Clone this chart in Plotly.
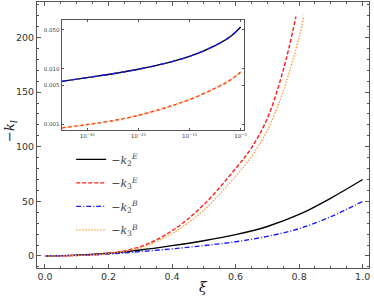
import plotly.graph_objects as go

# ---- main panel data ----
xi = [0.0, 0.1, 0.2, 0.3, 0.4, 0.5, 0.6, 0.7, 0.8, 0.9, 1.0]
k2E = [0.0, 0.8, 2.5, 5.5, 9.5, 14.0, 19.5, 27.0, 38.0, 53.0, 70.0]
k2B = [0.0, 0.6, 1.8, 4.0, 6.5, 9.5, 13.0, 18.0, 25.0, 36.0, 50.0]

xi_k3E = [0.0, 0.1, 0.2, 0.3, 0.4, 0.5, 0.6, 0.65, 0.7, 0.75, 0.79]
k3E = [0.0, 0.5, 2.5, 8.5, 23.0, 47.0, 80.0, 99.0, 126.0, 170.0, 219.0]

xi_k3B = [0.0, 0.1, 0.2, 0.3, 0.4, 0.5, 0.6, 0.65, 0.7, 0.75, 0.8, 0.815]
k3B = [0.0, 0.4, 2.2, 7.5, 20.5, 42.0, 73.0, 91.0, 115.0, 151.0, 200.0, 220.0]

# ---- inset data (log-log) ----
inset_x = [1e-40, 1e-35, 1e-30, 1e-25, 1e-20, 1e-15, 1e-10, 1e-7, 1e-5]
inset_k2 = [0.00594, 0.00695, 0.00815, 0.00982, 0.01236, 0.01667, 0.0261, 0.038, 0.0562]
inset_k3 = [0.00087, 0.000998, 0.00117, 0.00146, 0.00196, 0.0028, 0.00447, 0.0063, 0.0087]

main_yticks = [0, 50, 100, 150, 200]
main_xticks = [0.0, 0.2, 0.4, 0.6, 0.8, 1.0]
inset_xticks = [1e-35, 1e-25, 1e-15, 1e-5]
inset_xtext = ["10<sup>−35</sup>", "10<sup>−25</sup>", "10<sup>−15</sup>", "10<sup>−5</sup>"]
inset_yticks = [0.001, 0.005, 0.010, 0.050]
inset_ytext = ["0.001", "0.005", "0.010", "0.050"]

names = ["−<i>k</i><sub>2</sub><sup><i>E</i></sup>",
         "−<i>k</i><sub>3</sub><sup><i>E</i></sup>",
         "−<i>k</i><sub>2</sub><sup><i>B</i></sup>",
         "−<i>k</i><sub>3</sub><sup><i>B</i></sup>"]

BLACK = "#000000"
RED = "#ff1a1a"
BLUE = "#1a1aff"
ORANGE = "#ffa040"

fig = go.Figure()
lw = 1.4
fig.add_trace(go.Scatter(x=xi, y=k2E, mode="lines", name=names[0], legendgroup="a",
                         line=dict(color=BLACK, width=lw, shape="spline")))
fig.add_trace(go.Scatter(x=xi_k3E, y=k3E, mode="lines", name=names[1], legendgroup="b",
                         line=dict(color=RED, width=lw, dash="4px,2px", shape="spline")))
fig.add_trace(go.Scatter(x=xi, y=k2B, mode="lines", name=names[2], legendgroup="c",
                         line=dict(color=BLUE, width=lw, dash="5px,2px,1px,2px", shape="spline")))
fig.add_trace(go.Scatter(x=xi_k3B, y=k3B, mode="lines", name=names[3], legendgroup="d",
                         line=dict(color=ORANGE, width=lw, dash="1.5px,1.5px", shape="spline")))

# inset traces
fig.add_trace(go.Scatter(x=inset_x, y=inset_k2, mode="lines", showlegend=False,
                         xaxis="x2", yaxis="y2", line=dict(color=BLACK, width=lw, shape="spline")))
fig.add_trace(go.Scatter(x=inset_x, y=inset_k2, mode="lines", showlegend=False,
                         xaxis="x2", yaxis="y2", line=dict(color=BLUE, width=lw, dash="5px,2px,1px,2px", shape="spline")))
fig.add_trace(go.Scatter(x=inset_x, y=inset_k3, mode="lines", showlegend=False,
                         xaxis="x2", yaxis="y2", line=dict(color=RED, width=lw, dash="4px,2px", shape="spline")))
fig.add_trace(go.Scatter(x=inset_x, y=inset_k3, mode="lines", showlegend=False,
                         xaxis="x2", yaxis="y2", line=dict(color=ORANGE, width=lw, dash="1.5px,1.5px", shape="spline")))

AX = "#555555"
TXT = "#333333"
fig.update_layout(
    width=374, height=302,
    margin=dict(l=37, r=1, t=1, b=34),
    paper_bgcolor="white", plot_bgcolor="white",
    font=dict(family="DejaVu Sans", size=10, color=TXT),
    showlegend=True,
    legend=dict(x=0.103, y=0.463, xanchor="left", yanchor="top",
                bgcolor="rgba(0,0,0,0)", font=dict(family="DejaVu Serif", size=11, color="#444"),
                itemwidth=30, tracegroupgap=4.5),
    xaxis=dict(range=[-0.025, 1.02], tickvals=main_xticks, tickformat=".1f",
               showline=True, linecolor=AX, linewidth=1, mirror="ticks",
               ticks="inside", ticklen=4, tickcolor=AX, showgrid=False, zeroline=False,
               minor=dict(ticks="inside", ticklen=2, dtick=0.05, tickcolor=AX, showgrid=False),
               tickfont=dict(size=9.5)),
    yaxis=dict(range=[-11, 232.5], tickvals=main_yticks,
               showline=True, linecolor=AX, linewidth=1, mirror="ticks",
               ticks="inside", ticklen=4, tickcolor=AX, showgrid=False, zeroline=False,
               minor=dict(ticks="inside", ticklen=2, dtick=10, tickcolor=AX, showgrid=False),
               tickfont=dict(size=9.5)),
    xaxis2=dict(type="log", domain=[0.0744, 0.622], anchor="y2", range=[-40.0, -4.45],
                tickvals=inset_xticks, ticktext=inset_xtext,
                showline=True, linecolor=AX, linewidth=1, mirror="ticks",
                ticks="inside", ticklen=2, tickcolor=AX, showgrid=False, zeroline=False,
                tickfont=dict(size=5.5, color="#444")),
    yaxis2=dict(type="log", domain=[0.517, 0.933], anchor="x2", range=[-3.107, -1.122],
                tickvals=inset_yticks, ticktext=inset_ytext,
                showline=True, linecolor=AX, linewidth=1, mirror="ticks",
                ticks="inside", ticklen=2, tickcolor=AX, showgrid=False, zeroline=False,
                tickfont=dict(size=5.5, color="#444")),
    annotations=[
        dict(text="<i>ξ</i>", xref="paper", yref="paper", x=0.5, y=-0.072,
             xanchor="center", yanchor="middle", showarrow=False,
             font=dict(family="DejaVu Serif", size=14, color="#222")),
        dict(text="−<i>k</i><sub><i>l</i></sub>", xref="paper", yref="paper", x=-0.08, y=0.517,
             xanchor="center", yanchor="middle", showarrow=False, textangle=-90,
             font=dict(family="DejaVu Serif", size=13, color="#222")),
    ],
)

fig.write_html("out.html", config={"displayModeBar": False},
               post_script="document.body.style.margin='0';")
